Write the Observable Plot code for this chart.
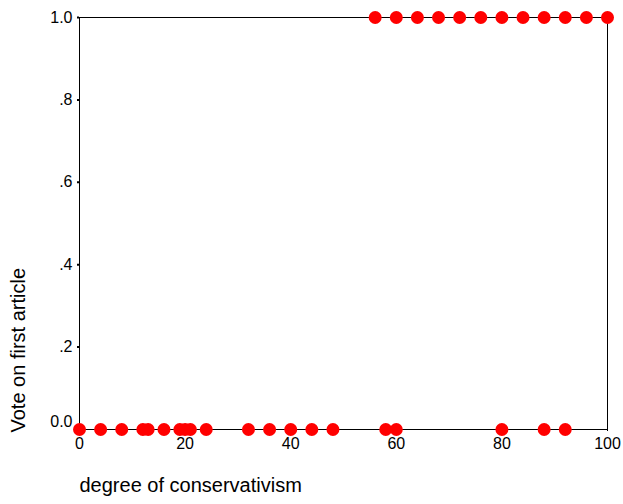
<!DOCTYPE html>
<html><head><meta charset="utf-8">
<script src="https://cdn.jsdelivr.net/npm/d3@7"></script>
<script src="https://cdn.jsdelivr.net/npm/@observablehq/plot@0.6"></script>
<style>body{margin:0;background:#fff}</style>
</head><body><div id="chart"></div>
<script>
const votedYes = [56, 60, 64, 68, 72, 76, 80, 84, 88, 92, 96, 100];
const votedNo = [0, 4, 8, 12, 13, 16, 19, 20, 21, 24, 32, 36, 40, 44, 48, 58, 60, 80, 88, 92];
const yTicks = [0.2, 0.4, 0.6, 0.8, 1.0];
const yTickLabels = [".2", ".4", ".6", ".8", "1.0"];
const yZeroLabel = "0.0";
const xTicks = [0, 20, 40, 60, 80, 100];
const xLabel = "degree of conservativism";
const yLabel = "Vote on first article";

const points = [
  ...votedNo.map(x => ({x, vote: 0})),
  ...votedYes.map(x => ({x, vote: 1}))
];

const chart = Plot.plot({
  width: 623,
  height: 504,
  marginLeft: 79,
  marginRight: 16,
  marginTop: 17,
  marginBottom: 75,
  style: {fontFamily: "'Liberation Sans', Arial, sans-serif", fontSize: "16px", background: "#fff"},
  x: {domain: [0, 100]},
  y: {domain: [0, 1]},
  marks: [
    Plot.frame({stroke: "black"}),
    Plot.axisY(yTicks, {tickSize: 2, strokeWidth: 2, tickPadding: 5, fontSize: 16,
      tickFormat: d => yTickLabels[yTicks.indexOf(d)], label: null}),
    Plot.text([0], {y: d => d, frameAnchor: "left", textAnchor: "end", dx: -7, dy: -8,
      text: () => yZeroLabel, fontSize: 16}),
    Plot.axisX(xTicks, {tickSize: 2, tickPadding: 6, fontSize: 16, label: null}),
    Plot.dot(points, {x: "x", y: "vote", r: 6.5, fill: "red", stroke: "none"}),
    Plot.text([xLabel], {frameAnchor: "bottom-left", textAnchor: "start", dy: 62, fontSize: 20}),
    Plot.text([yLabel], {frameAnchor: "bottom-left", textAnchor: "start", rotate: -90, dx: -55, dy: 3, fontSize: 20})
  ]
});
document.getElementById("chart").appendChild(chart);
</script>
</body></html>
